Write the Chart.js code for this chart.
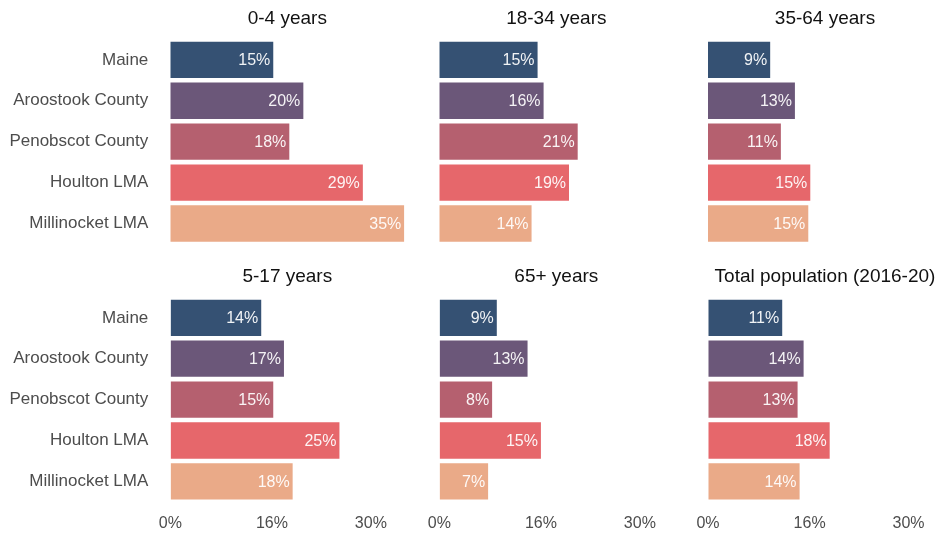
<!DOCTYPE html>
<html>
<head>
<meta charset="utf-8">
<script src="https://cdn.jsdelivr.net/npm/chart.js@4"></script>
<style>
  html, body { margin: 0; padding: 0; overflow: hidden; background: #fff; }
  body { position: relative; width: 940px; height: 533px; }
  canvas { position: absolute; }
</style>
</head>
<body>
<canvas id="p0"></canvas>
<canvas id="p1"></canvas>
<canvas id="p2"></canvas>
<canvas id="p3"></canvas>
<canvas id="p4"></canvas>
<canvas id="p5"></canvas>
<script>
// Data
const regions = ['Maine', 'Aroostook County', 'Penobscot County', 'Houlton LMA', 'Millinocket LMA'];
const panelTitles = ['0-4 years', '18-34 years', '35-64 years', '5-17 years', '65+ years', 'Total population (2016-20)'];
const age0to4 = [15.4, 19.9, 17.8, 28.8, 35.0];
const age18to34 = [14.7, 15.6, 20.7, 19.4, 13.8];
const age35to64 = [9.3, 13.0, 10.9, 15.3, 15.0];
const age5to17 = [13.6, 17.0, 15.4, 25.3, 18.3];
const age65plus = [8.6, 13.2, 7.9, 15.2, 7.3];
const totalPop = [11.1, 14.3, 13.4, 18.2, 13.7];
const tickValues = [0, 15.2, 30];
const tickLabels = ['0%', '16%', '30%'];

const barColors = ['#355173', '#6b5779', '#b5606f', '#e6676b', '#eaaa88'];

Chart.defaults.font.family = '"Liberation Sans", Arial, sans-serif';
Chart.defaults.font.size = 16;
Chart.defaults.animation = false;

// white % labels at the end of each bar
const barLabels = {
    id: 'barLabels',
    afterDatasetsDraw(chart) {
        const ctx = chart.ctx;
        const meta = chart.getDatasetMeta(0);
        const values = chart.data.datasets[0].data;
        ctx.save();
        ctx.font = '16px "Liberation Sans", Arial, sans-serif';
        ctx.fillStyle = 'rgba(255,255,255,0.93)';
        ctx.textAlign = 'right';
        ctx.textBaseline = 'middle';
        meta.data.forEach((bar, i) => {
            ctx.fillText(Math.round(values[i]) + '%', bar.x - 3, bar.y + 1);
        });
        ctx.restore();
    }
};

const panelData = [age0to4, age18to34, age35to64, age5to17, age65plus, totalPop];

// canvas placement per column (y axis width puts the plot's left edge where it belongs)
const cols = [
    { left: 0, width: 430, yWidth: 170.3, pr: 25.7 },
    { left: 419, width: 280, yWidth: 20.3, pr: 25.7 },
    { left: 688, width: 280, yWidth: 20, pr: 26 }
];
const rows = [
    { top: 0, height: 255, pb: 11, titleTop: 7.6, titleBottom: 9.0 },
    { top: 258, height: 275, pb: 0, titleTop: 7.3, titleBottom: 9.3 }
];

const hidden = 'rgba(0,0,0,0)';

panelData.forEach((values, i) => {
    const col = cols[i % 3];
    const row = rows[Math.floor(i / 3)];
    const canvas = document.getElementById('p' + i);
    canvas.width = col.width;
    canvas.height = row.height;
    canvas.style.left = col.left + 'px';
    canvas.style.top = row.top + 'px';
    const showY = i % 3 === 0;
    const showX = i >= 3;

    new Chart(canvas, {
        type: 'bar',
        data: {
            labels: regions,
            datasets: [{
                data: values,
                backgroundColor: barColors,
                borderWidth: 0,
                categoryPercentage: 1,
                barPercentage: 0.888
            }]
        },
        options: {
            indexAxis: 'y',
            responsive: false,
            layout: { padding: { left: 0, right: col.pr, top: 0, bottom: row.pb } },
            plugins: {
                legend: { display: false },
                tooltip: { enabled: false },
                title: {
                    display: true,
                    text: panelTitles[i],
                    fullSize: false,
                    color: '#111',
                    font: { size: 19, weight: 'normal' },
                    padding: { top: row.titleTop, bottom: row.titleBottom }
                }
            },
            scales: {
                x: {
                    min: 0,
                    max: 35,
                    display: showX,
                    grid: { display: true, drawOnChartArea: false, drawTicks: true, tickLength: 12, color: hidden },
                    border: { display: false },
                    afterBuildTicks: s => { s.ticks = tickValues.map(v => ({ value: v })); },
                    ticks: {
                        padding: 0,
                        color: '#4d4d4d',
                        autoSkip: false,
                        maxRotation: 0,
                        callback: (v, idx) => tickLabels[idx]
                    }
                },
                y: {
                    display: true,
                    grid: { display: true, drawOnChartArea: false, drawTicks: true, tickLength: 22, color: hidden },
                    border: { display: false },
                    ticks: { display: showY, padding: 0, color: '#4d4d4d', font: { size: 17 } },
                    afterFit: s => { s.width = col.yWidth; }
                }
            }
        },
        plugins: [barLabels]
    });
});
</script>
</body>
</html>
